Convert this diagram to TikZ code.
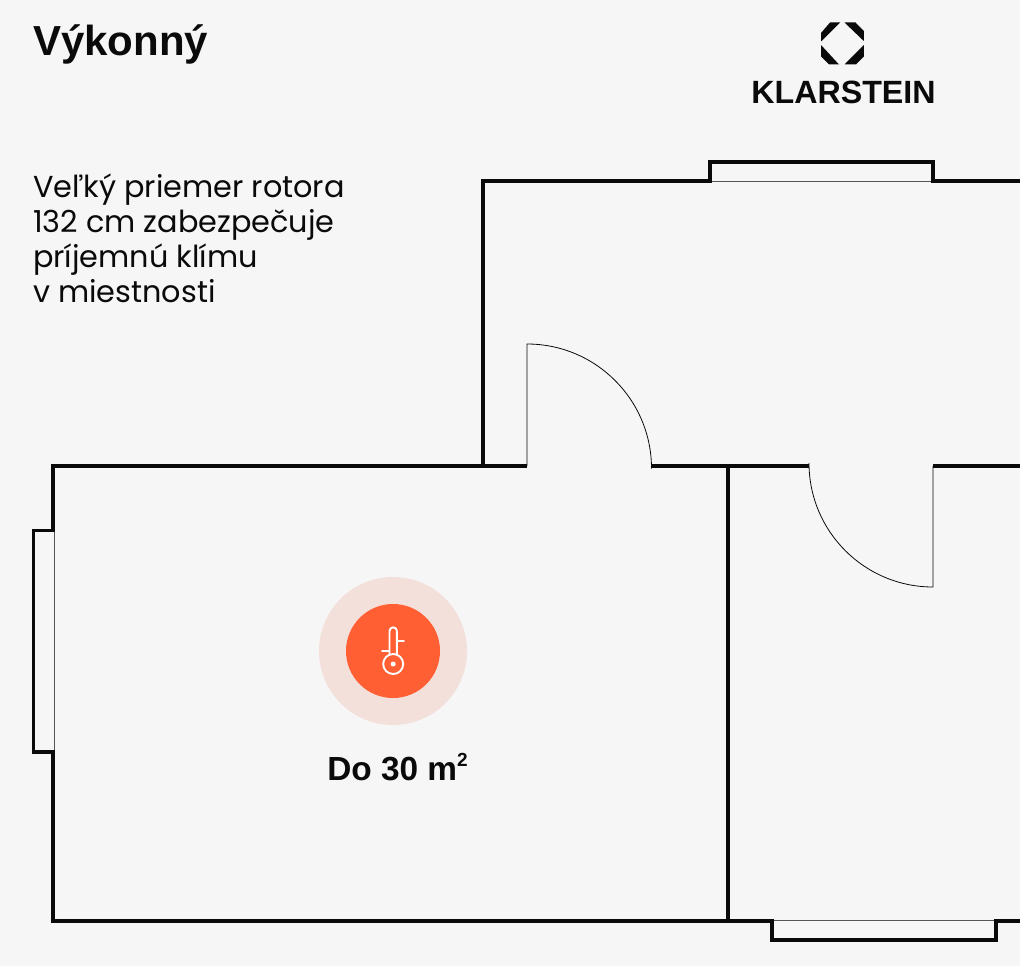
\documentclass[tikz,border=0pt]{standalone}
\usepackage{fontspec}
\setmainfont{Liberation Sans}
\newfontfamily\bodyfont{Poppins}
\definecolor{bgc}{HTML}{F6F6F6}
\definecolor{ink}{HTML}{0A0A0A}
\definecolor{orangec}{HTML}{FF5F33}
\definecolor{halo}{HTML}{F4E0DA}
\definecolor{thin}{HTML}{555555}
\tikzset{
  wall/.style={draw=ink,line width=3.6pt,line cap=butt,line join=miter},
  thinline/.style={draw=thin,line width=0.9pt},
  doorline/.style={draw=ink,line width=0.8pt},
  icon/.style={draw=white,line width=1.9pt,line cap=round},
  title/.style={inner sep=0pt,anchor=base west,font=\fontsize{42}{42}\selectfont\bfseries,text=ink},
  body/.style={inner sep=0pt,anchor=base west,font=\bodyfont\fontsize{30.3}{35}\selectfont,text=ink},
}
\begin{document}
\begin{tikzpicture}[x=1pt,y=-1pt]
\path[fill=bgc] (0,0) rectangle (1020,966);
\useasboundingbox (0,0) rectangle (1020,966);
% thin window and door lines
\draw[thinline] (710,181)--(933,181);
\draw[thinline] (54.5,530)--(54.5,752);
\draw[thinline] (772,920)--(996,920);
\draw[doorline] (527,466)--(527,344) arc[start angle=270,end angle=360,radius=124.5];
\draw[doorline] (933,466)--(933,587) arc[start angle=90,end angle=180,radius=124];
% walls
\draw[wall] (527,466)--(53,466)--(53,530.5)--(33.5,530.5)--(33.5,752)--(53,752)--(53,921)--(772,921)--(772,940)--(996,940)--(996,921)--(1020,921);
\draw[wall] (651,466)--(809,466);
\draw[wall] (933,466)--(1020,466);
\draw[wall] (728,466)--(728,921);
\draw[wall] (483,466)--(483,181)--(710,181)--(710,162)--(933,162)--(933,181)--(1020,181);
% marker
\fill[halo] (393,651) circle[radius=74];
\fill[orangec] (393,651) circle[radius=47];
\draw[icon] (389.5,655)--(389.5,631) arc[start angle=180,end angle=360,radius=3.7]--(396.9,655);
\draw[icon] (397,641)--(404,641);
\draw[icon] (382,651)--(389.5,651);
\draw[icon] (393.2,664) circle[radius=10];
\fill[white] (393.2,664) circle[radius=2.5];
% logo
\fill[ink] (821,33)--(830,22.5)--(840,22.5)--(821,41.5)--cycle;
\fill[ink] (844.5,22.5)--(855.5,22.5)--(863.8,31)--(863.8,41)--cycle;
\fill[ink] (821,45)--(839,64.5)--(829,64.5)--(821,56.5)--cycle;
\fill[ink] (863.8,45)--(844.5,64.5)--(856,64.5)--(863.8,56.5)--cycle;
% text
\node[title] (head) at (33,56) {Výkonný};
\node[body] (l1) at (33,197) {Veľký priemer rotora};
\node[body] (l2) at (33,232) {132 cm zabezpečuje};
\node[body] (l3) at (33,267) {príjemnú klímu};
\node[body] (l4) at (33,302) {v miestnosti};
\node[inner sep=0pt,anchor=base,font=\fontsize{33.4}{33}\selectfont\bfseries,text=ink] (lab) at (397.5,780) {Do 30 m\raisebox{0.4em}{\fontsize{19}{19}\selectfont\bfseries 2}};
\node[inner sep=0pt,anchor=base,font=\fontsize{32.2}{32}\selectfont\bfseries,text=ink] (brand) at (843.5,103) {KLARSTEIN};
\end{tikzpicture}
\end{document}
